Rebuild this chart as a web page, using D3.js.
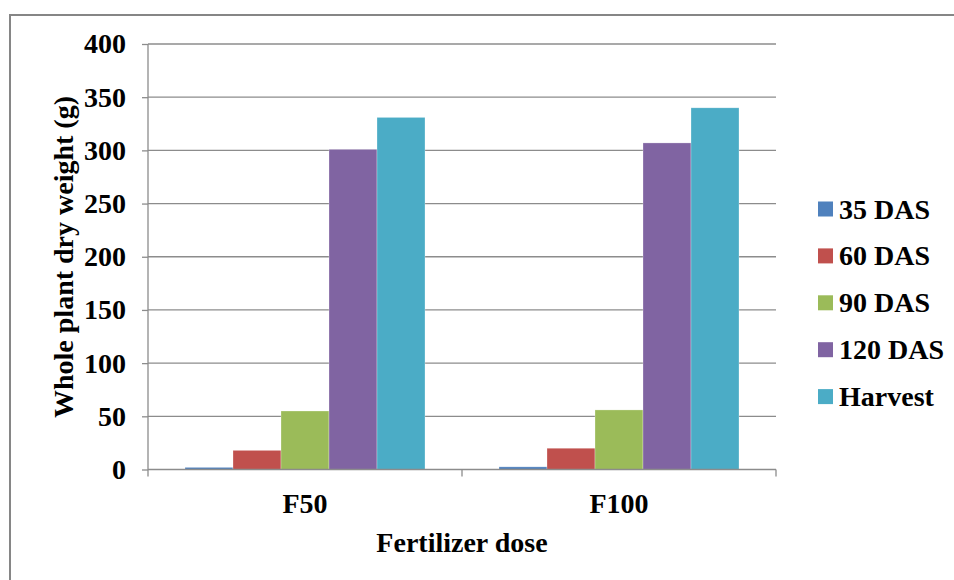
<!DOCTYPE html>
<html>
<head>
<meta charset="utf-8">
<script src="https://cdn.jsdelivr.net/npm/d3@7"></script>
<style>
  body { margin: 0; background: #fff; }
  text { font-family: "Liberation Serif", "Times New Roman", serif; font-weight: bold; fill: #000; }
</style>
</head>
<body>
<script>
var w = 954;
var h = 580;

// data
var doses = ["F50", "F100"];
var stages = ["35 DAS", "60 DAS", "90 DAS", "120 DAS", "Harvest"];
var f50 = [2, 18, 55, 301, 331];
var f100 = [2.5, 20, 56, 307, 340];
var yTicks = [0, 50, 100, 150, 200, 250, 300, 350, 400];
var colors = ["#4F81BD", "#C0504D", "#9BBB59", "#8064A2", "#4BACC6"];

var rows = [f50, f100];

// plot box
var plotLeft = 148, plotRight = 776, plotTop = 44, plotBottom = 469.5;

var x0 = d3.scaleBand().domain(doses).range([plotLeft, plotRight]);
var x1 = d3.scaleBand().domain(stages).range([37, x0.bandwidth() - 37]);
var yScale = d3.scaleLinear().domain([0, 400]).range([plotBottom, plotTop]);
var color = d3.scaleOrdinal().domain(stages).range(colors);

var svg = d3.select("body")
            .append("svg")
            .attr("width", w)
            .attr("height", h);

svg.append("rect")
   .attr("width", w).attr("height", h)
   .attr("fill", "#fff");

// outer chart border
svg.append("rect")
   .attr("x", 10).attr("y", 15)
   .attr("width", 960).attr("height", 620)
   .attr("fill", "none")
   .attr("stroke", "#868686")
   .attr("stroke-width", 2);

// gridlines
svg.append("g")
   .selectAll("line")
   .data(yTicks.slice(1))
   .enter()
   .append("line")
   .attr("x1", plotLeft).attr("x2", plotRight)
   .attr("y1", function(d) { return yScale(d); })
   .attr("y2", function(d) { return yScale(d); })
   .attr("stroke", "#8c8c8c")
   .attr("stroke-width", 1.3);

// bars
var groups = svg.append("g")
   .selectAll("g")
   .data(doses)
   .enter()
   .append("g")
   .attr("transform", function(d) { return "translate(" + x0(d) + ",0)"; });

groups.selectAll("rect")
   .data(function(d, i) {
        return stages.map(function(s, j) { return {stage: s, value: rows[i][j]}; });
    })
   .enter()
   .append("rect")
   .attr("x", function(d) { return x1(d.stage); })
   .attr("y", function(d) { return yScale(d.value); })
   .attr("width", x1.bandwidth())
   .attr("height", function(d) { return plotBottom - yScale(d.value); })
   .attr("fill", function(d) { return color(d.stage); })
   .attr("stroke", "rgba(255,255,255,0.45)")
   .attr("stroke-width", 0.6);

// Y axis
var yAxis = d3.axisLeft(yScale)
            .tickValues(yTicks)
            .tickSize(6)
            .tickPadding(16);

var yg = svg.append("g")
    .attr("transform", "translate(" + plotLeft + ",0)")
    .call(yAxis);
yg.select(".domain").remove();
yg.selectAll("line").attr("stroke", "#8c8c8c").attr("stroke-width", 1.3);
yg.selectAll("text")
  .attr("font-size", 28)
  .attr("font-family", null)
  .attr("fill", "#000");
yg.attr("font-family", null).attr("font-size", null);

svg.append("line")
   .attr("x1", plotLeft).attr("x2", plotLeft)
   .attr("y1", plotTop).attr("y2", plotBottom + 7)
   .attr("stroke", "#8c8c8c").attr("stroke-width", 1.3);

// X axis line + ticks at category edges
svg.append("line")
   .attr("x1", plotLeft).attr("x2", plotRight)
   .attr("y1", plotBottom).attr("y2", plotBottom)
   .attr("stroke", "#8c8c8c").attr("stroke-width", 1.3);

svg.append("g")
   .selectAll("line")
   .data(doses.map(function(d) { return x0(d) + x0.bandwidth(); }))
   .enter()
   .append("line")
   .attr("x1", function(d) { return d; })
   .attr("x2", function(d) { return d; })
   .attr("y1", plotBottom).attr("y2", plotBottom + 7)
   .attr("stroke", "#8c8c8c").attr("stroke-width", 1.3);

svg.append("g")
   .selectAll("text")
   .data(doses)
   .enter()
   .append("text")
   .attr("x", function(d) { return x0(d) + x0.bandwidth() / 2; })
   .attr("y", 513)
   .attr("text-anchor", "middle")
   .attr("font-size", 28)
   .text(function(d) { return d; });

// axis titles
svg.append("text")
   .attr("x", (plotLeft + plotRight) / 2)
   .attr("y", 552)
   .attr("text-anchor", "middle")
   .attr("font-size", 28)
   .text("Fertilizer dose");

svg.append("text")
   .attr("transform", "translate(73,257) rotate(-90)")
   .attr("text-anchor", "middle")
   .attr("font-size", 28)
   .text("Whole plant dry weight (g)");

// legend
var legend = svg.append("g")
   .selectAll("g")
   .data(stages)
   .enter()
   .append("g")
   .attr("transform", function(d, i) { return "translate(818," + (209 + i * 46.9) + ")"; });

legend.append("rect")
   .attr("x", 0).attr("y", -7.5)
   .attr("width", 15).attr("height", 15)
   .attr("fill", function(d) { return color(d); });

legend.append("text")
   .attr("x", 21)
   .attr("y", 9.5)
   .attr("font-size", 28)
   .text(function(d) { return d; });
</script>
</body>
</html>
